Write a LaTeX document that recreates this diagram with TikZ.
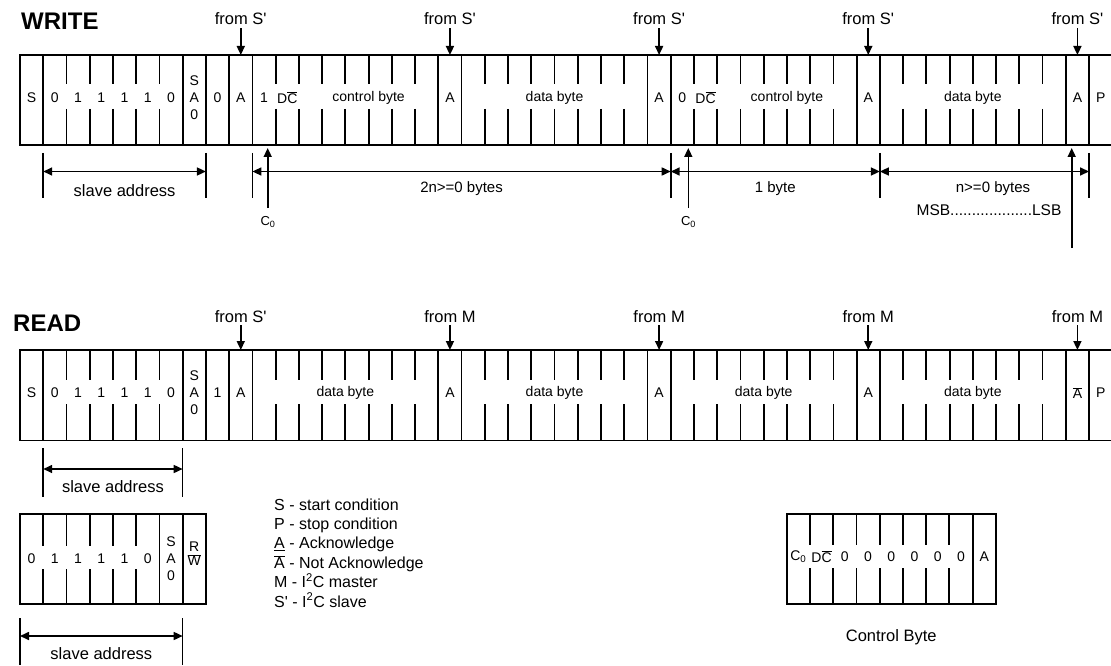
\documentclass[tikz,border=0pt]{standalone}
\usepackage{fontspec}
\setmainfont{Liberation Sans}
\usetikzlibrary{arrows.meta}
\newcommand{\ovl}[1]{$\overline{\mbox{#1}}$}
\newcommand{\dcbar}{D\ovl{C}}
\tikzset{
  frm/.style={line width=1.8pt},
  cell/.style={font=\fontsize{14}{17}\selectfont, inner sep=0pt, align=center},
  lab/.style={font=\fontsize{16.5}{18}\selectfont, inner sep=0pt},
  dimlab/.style={font=\fontsize{15}{17}\selectfont, inner sep=0pt},
  leg/.style={font=\fontsize{16}{18}\selectfont, inner sep=0pt, anchor=base west},
  ttl/.style={font=\fontsize{24}{24}\selectfont\bfseries, inner sep=0pt, anchor=base west},
  arr/.style={line width=1.6pt, -{Triangle[length=9pt,width=8pt]}},
  dimarr/.style={line width=1.6pt, {Triangle[length=9pt,width=8pt]}-{Triangle[length=9pt,width=8pt]}},
  extl/.style={line width=1.6pt},
}
\begin{document}
\begin{tikzpicture}[x=1pt,y=-1pt]
\useasboundingbox (0,0) rectangle (1111,666);
\clip (0,0) rectangle (1111,666);
\def\w{23.24}
\fill[white] (0,0) rectangle (1111,666);

% ================= WRITE =================
\node[ttl] (write) at (21,29.3) {WRITE};
\draw[frm] (20,55) rectangle ({20+47*\w},145);
\foreach \k in {1,7,8,9,10,18,19,27,28,36,37,45,46}
  \draw[frm] ({20+\k*\w},55) -- ({20+\k*\w},145);
\foreach \k in {2,3,4,5,6,11,12,13,14,15,16,17,20,21,22,23,24,25,26,29,30,31,32,33,34,35,38,39,40,41,42,43,44}
  {\draw[frm] ({20+\k*\w},55) -- ({20+\k*\w},84);
   \draw[frm] ({20+\k*\w},109) -- ({20+\k*\w},145);}
\foreach \i/\t in {0/S,1/0,2/1,3/1,4/1,5/1,6/0,7/{S\\A\\0},8/0,9/A,10/1,11/{\dcbar},18/A,27/A,28/0,29/{\dcbar},36/A,45/A,46/P}
  \node[cell] (w\i) at ({20+(\i+0.5)*\w},97.5) {\t};
\node[cell] (wcb1) at ({20+15*\w},97.5) {control byte};
\node[cell] (wdb1) at ({20+23*\w},97.5) {data byte};
\node[cell] (wcb2) at ({20+33*\w},97.5) {control byte};
\node[cell] (wdb2) at ({20+41*\w},97.5) {data byte};
\foreach \k in {9,18,27,36,45} {
  \node[lab, anchor=base] (fw\k) at ({20+(\k+0.5)*\w},25) {from S\textquotesingle};
  \coordinate (aw\k) at ({20+(\k+0.5)*\w},55);
  \draw[arr] ([yshift=-3pt]fw\k.south) -- (aw\k);
}
% extension lines
\foreach \k in {1,8,10,28,37,46} {
  \coordinate (et\k) at ({20+\k*\w},153);
  \coordinate (eb\k) at ({20+\k*\w},198);
  \coordinate (ed\k) at ({20+\k*\w},171.5);
  \draw[extl] (et\k) -- (eb\k);
}
\draw[dimarr] (ed1) -- (ed8);
\draw[dimarr] (ed10) -- (ed28);
\draw[dimarr] (ed28) -- (ed37);
\draw[dimarr] (ed37) -- (ed46);
\node[lab] (wsa) at ({20+4.5*\w},191) {slave address};
\node[dimlab] (w2n) at ({20+19*\w},189) {2n>=0 bytes};
\node[dimlab] (w1b) at ({20+32.5*\w},189) {1 byte};
\node[dimlab] (wnb) at (993,189) {n>=0 bytes};
\node[dimlab, font=\fontsize{15.5}{17}\selectfont] (wml) at (989,210) {MSB...................LSB};
% C0 arrows
\node[font=\fontsize{13}{13}\selectfont, inner sep=0pt] (c1) at (268,222) {C\textsubscript{0}};
\node[font=\fontsize{13}{13}\selectfont, inner sep=0pt] (c2) at (688.5,222) {C\textsubscript{0}};
\coordinate (c1t) at (267.7,148);
\coordinate (c2t) at (688.3,148);
\coordinate (c1b) at (267.7,208);
\coordinate (c2b) at (688.3,208);
\draw[arr] (c1b) -- (c1t);
\draw[arr] (c2b) -- (c2t);
\coordinate (lsbb) at (1071.7,248);
\coordinate (lsbt) at (1071.7,148);
\draw[arr] (lsbb) -- (lsbt);

% ================= READ =================
\node[ttl] (read) at (13,331) {READ};
\draw[frm] (20,350) rectangle ({20+47*\w},440.5);
\foreach \k in {1,7,8,9,10,18,19,27,28,36,37,45,46}
  \draw[frm] ({20+\k*\w},350) -- ({20+\k*\w},440.5);
\foreach \k in {2,3,4,5,6,11,12,13,14,15,16,17,20,21,22,23,24,25,26,29,30,31,32,33,34,35,38,39,40,41,42,43,44}
  {\draw[frm] ({20+\k*\w},350) -- ({20+\k*\w},380);
   \draw[frm] ({20+\k*\w},404) -- ({20+\k*\w},440.5);}
\foreach \i/\t in {0/S,1/0,2/1,3/1,4/1,5/1,6/0,7/{S\\A\\0},8/1,9/A,18/A,27/A,36/A,45/{\ovl{A}},46/P}
  \node[cell] (r\i) at ({20+(\i+0.5)*\w},393) {\t};
\node[cell] (rdb1) at ({20+14*\w},393) {data byte};
\node[cell] (rdb2) at ({20+23*\w},393) {data byte};
\node[cell] (rdb3) at ({20+32*\w},393) {data byte};
\node[cell] (rdb4) at ({20+41*\w},393) {data byte};
\node[lab, anchor=base] (fr9) at ({20+9.5*\w},322) {from S\textquotesingle};
\coordinate (ar9) at ({20+9.5*\w},350);
\draw[arr] ([yshift=-3pt]fr9.south) -- (ar9);
\foreach \k in {18,27,36,45} {
  \node[lab, anchor=base] (fr\k) at ({20+(\k+0.5)*\w},322) {from M};
  \coordinate (ar\k) at ({20+(\k+0.5)*\w},350);
  \draw[arr] ([yshift=-3pt]fr\k.south) -- (ar\k);
}
\foreach \k in {1,7} {
  \coordinate (rt\k) at ({20+\k*\w},448);
  \coordinate (rb\k) at ({20+\k*\w},497);
  \coordinate (rd\k) at ({20+\k*\w},469);
  \draw[extl] (rt\k) -- (rb\k);
}
\draw[dimarr] (rd1) -- (rd7);
\node[lab] (rsa) at ({20+4*\w},487) {slave address};

% ================= small address box =================
\draw[frm] (20,514) rectangle ({20+8*\w},604);
\foreach \k in {6,7}
  \draw[frm] ({20+\k*\w},514) -- ({20+\k*\w},604);
\foreach \k in {1,2,3,4,5}
  {\draw[frm] ({20+\k*\w},514) -- ({20+\k*\w},546);
   \draw[frm] ({20+\k*\w},569) -- ({20+\k*\w},604);}
\foreach \i/\t in {0/0,1/1,2/1,3/1,4/1,5/0,6/{S\\A\\0}}
  \node[cell] (s\i) at ({20+(\i+0.5)*\w},559) {\t};
\node[cell, font=\fontsize{14}{15}\selectfont] (s7) at ({20+7.5*\w},554) {R\\[-1pt]\ovl{W}};
\foreach \k in {0,7} {
  \coordinate (st\k) at ({20+\k*\w},618);
  \coordinate (sb\k) at ({20+\k*\w},665);
  \coordinate (sd\k) at ({20+\k*\w},636);
  \draw[extl] (st\k) -- (sb\k);
}
\draw[dimarr] (sd0) -- (sd7);
\node[lab] (ssa) at ({20+3.5*\w},653.5) {slave address};

% ================= legend =================
\node[leg] (l1) at (274,510) {S - start condition};
\node[leg] (l2) at (274,529.4) {P - stop condition};
\node[leg] (l3) at (274,548.8) {\underline{A} - Acknowledge};
\node[leg] (l4) at (274,568.2) {\ovl{A} - Not Acknowledge};
\node[leg] (l5) at (274,587.6) {M - I\textsuperscript{2}C master};
\node[leg] (l6) at (274,607) {S\textquotesingle{} - I\textsuperscript{2}C slave};

% ================= control byte box =================
\def\cx{786.7}
\draw[frm] (\cx,514) rectangle ({\cx+9*\w},604);
\draw[frm] ({\cx+8*\w},514) -- ({\cx+8*\w},604);
\foreach \k in {1,2,3,4,5,6,7}
  {\draw[frm] ({\cx+\k*\w},514) -- ({\cx+\k*\w},545);
   \draw[frm] ({\cx+\k*\w},568) -- ({\cx+\k*\w},604);}
\foreach \i/\t in {0/{C\textsubscript{0}},1/{\dcbar},2/0,3/0,4/0,5/0,6/0,7/0,8/A}
  \node[cell] (cb\i) at ({\cx+(\i+0.5)*\w},557) {\t};
\node[lab] (cbl) at ({\cx+4.5*\w},637) {Control Byte};
\end{tikzpicture}
\end{document}
